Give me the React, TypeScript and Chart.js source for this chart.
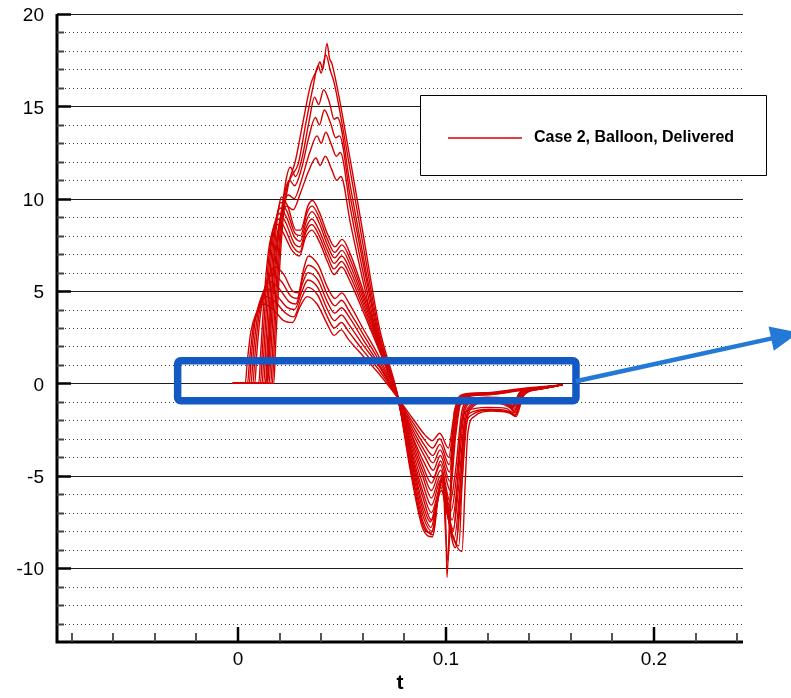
import React, { useEffect, useRef } from 'react';
import { Chart, registerables } from 'chart.js';

Chart.register(...registerables);

// ---------- axes / ticks ----------
const xRange = [-0.087, 0.2428];
const yRange = [-14, 20];
const xMajorTicks = [0, 0.1, 0.2];
const xMinorTicks = [-0.08, -0.06, -0.04, -0.02, 0.02, 0.04, 0.06, 0.08, 0.12, 0.14, 0.16, 0.18, 0.22, 0.24];
const yMajorTicks = [-10, -5, 0, 5, 10, 15, 20];
const yMinorTicks = [-13, -12, -11, -9, -8, -7, -6, -4, -3, -2, -1, 1, 2, 3, 4, 6, 7, 8, 9, 11, 12, 13, 14, 16, 17, 18, 19];
const axisTitle = 't';
const legendLabel = 'Case 2, Balloon, Delivered';

// highlight box and arrow (data coordinates)
const boxT = [-0.029, 0.1625];
const boxV = [-0.94, 1.23];
const arrowStart = [0.1625, 0.12];
const arrowTip = [0.2695, 2.75];

// ---------- series (t, value) ----------
const s01 = [[-0.0025,0],[0.0035,0],[0.0045,1.2],[0.0062,2.8],[0.0088,3.8],[0.0125,4.3],[0.017,4.0],[0.022,3.4],[0.0262,3.3],[0.03,4.2],[0.0333,4.7],[0.038,4.3],[0.043,3.2],[0.0462,2.6],[0.0496,2.9],[0.053,2.4],[0.06,1.5],[0.068,0.5],[0.0763,-0.7],[0.084,-1.9],[0.09,-2.8],[0.0935,-3.1],[0.097,-2.7],[0.1012,-3.5],[0.1035,-2.0],[0.1055,-0.9],[0.108,-0.6],[0.12,-0.5],[0.135,-0.3],[0.146,-0.18],[0.156,-0.08]];
const s02 = [[-0.0025,0],[0.0046,0],[0.0056,1.3],[0.0074,3.1],[0.01,4.1],[0.0136,4.7],[0.018,4.4],[0.023,3.8],[0.0268,3.6],[0.0305,4.6],[0.0336,5.2],[0.0382,4.8],[0.043,3.6],[0.0463,3.0],[0.0497,3.3],[0.0532,2.8],[0.06,1.8],[0.068,0.7],[0.0764,-0.7],[0.084,-2.1],[0.09,-3.1],[0.0936,-3.5],[0.097,-3.0],[0.1013,-4.0],[0.1037,-2.2],[0.1058,-0.95],[0.1085,-0.62],[0.12,-0.52],[0.135,-0.32],[0.146,-0.2],[0.156,-0.08]];
const s03 = [[-0.0025,0],[0.0054,0],[0.0064,1.4],[0.0083,3.4],[0.011,4.6],[0.0146,5.1],[0.019,4.7],[0.0238,4.1],[0.0272,4.0],[0.0308,5.0],[0.0336,5.6],[0.0383,5.2],[0.043,4.0],[0.0464,3.4],[0.0497,3.7],[0.0533,3.2],[0.06,2.1],[0.068,0.9],[0.0765,-0.72],[0.084,-2.3],[0.09,-3.4],[0.0937,-3.9],[0.0971,-3.3],[0.1015,-4.4],[0.1039,-2.4],[0.106,-1.0],[0.109,-0.65],[0.12,-0.55],[0.135,-0.34],[0.146,-0.2],[0.156,-0.08]];
const s04 = [[-0.0025,0],[0.0063,0],[0.0073,1.5],[0.0093,3.6],[0.012,4.9],[0.0156,5.5],[0.02,5.1],[0.0248,4.4],[0.0278,4.3],[0.031,5.4],[0.0337,6.0],[0.0384,5.6],[0.043,4.4],[0.0465,3.8],[0.0498,4.1],[0.0534,3.6],[0.06,2.4],[0.068,1.0],[0.0766,-0.73],[0.084,-2.5],[0.09,-3.7],[0.0938,-4.3],[0.0972,-3.6],[0.1017,-4.8],[0.1041,-2.6],[0.1063,-1.05],[0.1095,-0.68],[0.12,-0.58],[0.135,-0.36],[0.146,-0.21],[0.156,-0.08]];
const s05 = [[-0.0025,0],[0.0072,0],[0.0082,1.6],[0.0102,3.8],[0.013,5.2],[0.0166,5.9],[0.021,5.5],[0.0256,4.7],[0.0284,4.6],[0.0313,5.8],[0.0338,6.4],[0.0385,6.0],[0.043,4.8],[0.0466,4.2],[0.0498,4.5],[0.0535,3.9],[0.06,2.7],[0.068,1.2],[0.0766,-0.74],[0.084,-2.7],[0.09,-4.0],[0.0939,-4.7],[0.0973,-3.9],[0.1019,-5.3],[0.1043,-2.8],[0.1066,-1.1],[0.11,-0.7],[0.12,-0.6],[0.135,-0.38],[0.146,-0.22],[0.156,-0.08]];
const s06 = [[-0.0025,0],[0.0081,0],[0.0091,1.7],[0.0111,4.0],[0.014,5.5],[0.0176,6.3],[0.022,5.9],[0.0262,5.0],[0.029,4.9],[0.0316,6.2],[0.0339,6.9],[0.0386,6.4],[0.043,5.2],[0.0467,4.6],[0.0499,4.9],[0.0536,4.3],[0.06,3.0],[0.068,1.4],[0.0767,-0.75],[0.084,-2.9],[0.09,-4.4],[0.094,-5.1],[0.0974,-4.2],[0.1021,-5.8],[0.1045,-3.0],[0.1069,-1.15],[0.1105,-0.72],[0.12,-0.62],[0.135,-0.4],[0.146,-0.23],[0.156,-0.08]];
const s07 = [[-0.0025,0],[0.01,0],[0.011,1.8],[0.0125,4.5],[0.0145,7.0],[0.0165,8.2],[0.019,8.6],[0.022,8.1],[0.026,7.2],[0.0295,6.9],[0.0325,7.9],[0.0355,8.3],[0.039,7.7],[0.043,6.6],[0.0462,5.9],[0.0498,6.3],[0.054,5.5],[0.062,3.4],[0.07,1.2],[0.0765,-0.72],[0.083,-2.7],[0.089,-4.5],[0.093,-5.4],[0.0973,-4.4],[0.102,-6.4],[0.1045,-4.8],[0.1075,-1.6],[0.11,-1.0],[0.12,-0.75],[0.128,-0.8],[0.132,-1.1],[0.136,-0.45],[0.145,-0.25],[0.156,-0.08]];
const s08 = [[-0.0025,0],[0.0108,0],[0.0118,1.9],[0.0133,4.7],[0.0153,7.3],[0.0172,8.5],[0.0195,8.9],[0.0225,8.4],[0.0265,7.4],[0.0297,7.1],[0.0327,8.2],[0.0355,8.6],[0.039,8.0],[0.043,6.9],[0.0462,6.2],[0.0498,6.6],[0.054,5.8],[0.062,3.6],[0.07,1.3],[0.0767,-0.73],[0.083,-2.9],[0.089,-4.8],[0.093,-5.8],[0.0974,-4.7],[0.1025,-6.9],[0.105,-5.1],[0.108,-1.7],[0.1105,-1.05],[0.12,-0.8],[0.1285,-0.9],[0.1322,-1.2],[0.1362,-0.5],[0.145,-0.26],[0.156,-0.08]];
const s09 = [[-0.0025,0],[0.0116,0],[0.0126,2.0],[0.0141,4.9],[0.0161,7.6],[0.018,8.8],[0.02,9.2],[0.023,8.7],[0.027,7.6],[0.0298,7.4],[0.033,8.5],[0.0355,8.9],[0.039,8.3],[0.043,7.2],[0.0463,6.5],[0.0499,6.9],[0.054,6.1],[0.062,3.8],[0.07,1.4],[0.0768,-0.74],[0.083,-3.1],[0.089,-5.1],[0.093,-6.2],[0.0975,-5.0],[0.103,-7.4],[0.1055,-5.4],[0.1085,-1.8],[0.111,-1.1],[0.12,-0.85],[0.129,-1.0],[0.1325,-1.3],[0.1365,-0.5],[0.145,-0.27],[0.156,-0.08]];
const s10 = [[-0.0025,0],[0.0124,0],[0.0134,2.1],[0.0149,5.1],[0.0169,7.9],[0.0187,9.1],[0.0203,9.5],[0.0233,9.0],[0.0273,7.9],[0.0299,7.7],[0.0332,8.9],[0.0356,9.3],[0.039,8.7],[0.043,7.5],[0.0464,6.8],[0.05,7.2],[0.054,6.4],[0.062,4.0],[0.07,1.5],[0.0769,-0.75],[0.083,-3.3],[0.089,-5.5],[0.093,-6.6],[0.0976,-5.2],[0.1035,-7.9],[0.106,-5.7],[0.109,-1.9],[0.1115,-1.2],[0.12,-0.9],[0.1295,-1.1],[0.1328,-1.4],[0.1368,-0.55],[0.145,-0.28],[0.156,-0.08]];
const s11 = [[-0.0025,0],[0.0132,0],[0.0142,2.2],[0.0157,5.3],[0.0177,8.2],[0.0193,9.4],[0.0206,9.8],[0.0236,9.3],[0.0276,8.1],[0.03,8.0],[0.0334,9.3],[0.0357,9.6],[0.039,9.0],[0.043,7.8],[0.0465,7.1],[0.05,7.5],[0.054,6.7],[0.062,4.2],[0.07,1.6],[0.077,-0.76],[0.083,-3.5],[0.089,-5.9],[0.093,-7.0],[0.0977,-5.5],[0.104,-8.4],[0.1065,-6.0],[0.1095,-2.0],[0.112,-1.25],[0.12,-0.95],[0.13,-1.2],[0.1331,-1.5],[0.137,-0.55],[0.145,-0.29],[0.156,-0.08]];
const s12 = [[-0.0025,0],[0.014,0],[0.015,2.3],[0.0165,5.5],[0.0185,8.5],[0.0199,9.7],[0.0209,10.1],[0.0239,9.6],[0.0279,8.3],[0.0301,8.3],[0.0336,9.6],[0.0358,9.9],[0.039,9.3],[0.043,8.1],[0.0466,7.4],[0.0501,7.8],[0.054,7.0],[0.062,4.4],[0.07,1.7],[0.0771,-0.77],[0.083,-3.7],[0.089,-6.2],[0.093,-7.4],[0.0978,-5.8],[0.1045,-8.9],[0.107,-6.3],[0.11,-2.1],[0.1125,-1.3],[0.12,-1.0],[0.1305,-1.3],[0.1334,-1.6],[0.1372,-0.6],[0.145,-0.3],[0.156,-0.08]];
const s13 = [[-0.0025,0],[0.0135,0],[0.0145,1.8],[0.016,4.6],[0.018,7.3],[0.0205,9.0],[0.0235,9.6],[0.0265,9.4],[0.03,10.3],[0.034,11.5],[0.0375,12.2],[0.0395,11.8],[0.042,12.3],[0.045,11.6],[0.0475,11.0],[0.0495,11.2],[0.054,8.7],[0.06,5.6],[0.068,1.9],[0.0765,-0.72],[0.083,-3.8],[0.089,-6.6],[0.0925,-7.5],[0.095,-6.6],[0.0975,-5.6],[0.1,-6.8],[0.1035,-8.0],[0.1055,-5.5],[0.107,-2.6],[0.11,-1.5],[0.12,-1.3],[0.129,-1.35],[0.1325,-1.6],[0.1365,-0.6],[0.145,-0.3],[0.156,-0.08]];
const s14 = [[-0.0025,0],[0.0143,0],[0.0153,1.9],[0.0168,4.8],[0.0188,7.6],[0.0213,9.5],[0.0243,10.2],[0.027,10.0],[0.0305,11.0],[0.0345,12.5],[0.038,13.4],[0.04,13.0],[0.0422,13.6],[0.045,12.9],[0.0473,12.3],[0.0492,12.5],[0.054,9.5],[0.06,6.1],[0.068,2.1],[0.0766,-0.73],[0.083,-4.0],[0.089,-6.9],[0.0928,-7.8],[0.0955,-6.5],[0.098,-5.3],[0.1005,-7.0],[0.105,-8.6],[0.1068,-5.8],[0.1085,-2.6],[0.1115,-1.6],[0.121,-1.4],[0.13,-1.5],[0.1332,-1.75],[0.137,-0.6],[0.145,-0.3],[0.156,-0.08]];
const s15 = [[-0.0025,0],[0.015,0],[0.016,2.0],[0.0175,5.0],[0.0195,8.0],[0.0222,10.2],[0.0248,11.0],[0.0272,10.7],[0.0305,11.6],[0.034,13.3],[0.0372,14.4],[0.0392,14.0],[0.0415,14.8],[0.0445,14.1],[0.047,13.3],[0.0488,13.4],[0.054,10.1],[0.06,6.6],[0.068,2.3],[0.0767,-0.74],[0.083,-4.2],[0.089,-7.2],[0.0933,-8.0],[0.096,-6.4],[0.0985,-5.1],[0.101,-7.2],[0.1077,-9.1],[0.1092,-5.5],[0.1105,-2.7],[0.1135,-1.8],[0.122,-1.5],[0.1305,-1.6],[0.1336,-1.8],[0.1374,-0.65],[0.145,-0.32],[0.156,-0.08]];
const s16 = [[-0.0025,0],[0.0158,0],[0.0168,2.1],[0.0183,5.2],[0.0203,8.3],[0.0228,10.8],[0.0252,11.7],[0.0277,11.2],[0.0308,12.2],[0.0342,14.2],[0.0368,15.5],[0.0388,15.1],[0.0412,15.9],[0.044,15.2],[0.0462,14.3],[0.0478,14.4],[0.054,10.7],[0.06,7.0],[0.068,2.5],[0.0768,-0.75],[0.083,-4.4],[0.089,-7.5],[0.0938,-8.2],[0.0962,-6.2],[0.0985,-4.9],[0.1008,-7.0],[0.1062,-8.8],[0.1078,-5.2],[0.1095,-2.4],[0.1125,-1.7],[0.1215,-1.45],[0.1302,-1.55],[0.1334,-1.7],[0.1372,-0.6],[0.145,-0.31],[0.156,-0.08]];
const s17 = [[-0.0025,0],[0.0165,0],[0.0175,2.2],[0.019,5.4],[0.021,8.6],[0.0235,10.6],[0.0262,11.3],[0.029,11.9],[0.0325,14.0],[0.036,16.0],[0.0385,17.2],[0.04,16.8],[0.0422,17.8],[0.0445,16.9],[0.0462,16.3],[0.054,11.5],[0.06,7.6],[0.068,2.7],[0.0769,-0.76],[0.083,-4.6],[0.089,-7.7],[0.093,-8.1],[0.096,-6.3],[0.0983,-5.0],[0.1,-8.5],[0.101,-9.6],[0.1028,-5.0],[0.1045,-1.8],[0.108,-1.1],[0.12,-0.9],[0.128,-1.0],[0.132,-1.3],[0.136,-0.5],[0.145,-0.28],[0.156,-0.08]];
const s18 = [[-0.0025,0],[0.0172,0],[0.0182,2.3],[0.0197,5.6],[0.0217,8.9],[0.0245,10.9],[0.0275,12.0],[0.031,14.0],[0.035,16.2],[0.038,17.0],[0.0394,17.4],[0.0408,17.0],[0.0428,18.4],[0.044,17.6],[0.0452,17.3],[0.054,12.1],[0.06,8.2],[0.068,3.0],[0.077,-0.77],[0.083,-4.8],[0.089,-7.9],[0.0935,-8.3],[0.0962,-6.0],[0.0987,-4.8],[0.1,-8.0],[0.1005,-10.5],[0.1022,-5.5],[0.104,-1.5],[0.1075,-0.95],[0.12,-0.85],[0.1275,-0.95],[0.1318,-1.25],[0.1358,-0.45],[0.145,-0.26],[0.156,-0.08]];

const allSeries = [s01, s02, s03, s04, s05, s06, s07, s08, s09, s10, s11, s12, s13, s14, s15, s16, s17, s18];

const RED = '#d40000';
const FONT = "'Liberation Sans', Arial, Helvetica, sans-serif";

const framePlugin = {
  id: 'frame',
  beforeDatasetsDraw(chart: any) {
    const { ctx, chartArea: a, scales } = chart;
    const ys = scales.y;
    ctx.save();
    ctx.lineWidth = 1;
    ctx.strokeStyle = '#3c3c3c';
    ctx.setLineDash([1, 3]);
    ctx.beginPath();
    for (const v of yMinorTicks) {
      const py = Math.round(ys.getPixelForValue(v)) + 0.5;
      ctx.moveTo(a.left, py);
      ctx.lineTo(a.right, py);
    }
    ctx.stroke();
    ctx.setLineDash([]);
    ctx.strokeStyle = '#1e1e1e';
    ctx.beginPath();
    for (const v of yMajorTicks) {
      const py = Math.round(ys.getPixelForValue(v)) + 0.5;
      ctx.moveTo(a.left, py);
      ctx.lineTo(a.right, py);
    }
    ctx.stroke();
    ctx.restore();
  },
  afterDatasetsDraw(chart: any) {
    const { ctx, chartArea: a, scales } = chart;
    const xs = scales.x;
    const ys = scales.y;
    ctx.save();
    // axes
    ctx.strokeStyle = '#000';
    ctx.lineWidth = 3;
    ctx.beginPath();
    ctx.moveTo(a.left, a.top);
    ctx.lineTo(a.left, a.bottom + 1.5);
    ctx.moveTo(a.left - 1.5, a.bottom);
    ctx.lineTo(a.right, a.bottom);
    ctx.stroke();
    // y ticks
    ctx.lineWidth = 2.5;
    ctx.strokeStyle = '#000';
    ctx.beginPath();
    for (const v of yMajorTicks) {
      const py = Math.round(ys.getPixelForValue(v)) + 0.5;
      ctx.moveTo(a.left, py);
      ctx.lineTo(a.left + 14, py);
    }
    ctx.stroke();
    ctx.lineWidth = 2;
    ctx.strokeStyle = '#444';
    ctx.beginPath();
    for (const v of yMinorTicks) {
      const py = Math.round(ys.getPixelForValue(v)) + 0.5;
      ctx.moveTo(a.left, py);
      ctx.lineTo(a.left + 7, py);
    }
    ctx.stroke();
    // x ticks
    ctx.lineWidth = 2.5;
    ctx.strokeStyle = '#000';
    ctx.beginPath();
    for (const v of xMajorTicks) {
      const px = Math.round(xs.getPixelForValue(v));
      ctx.moveTo(px, a.bottom);
      ctx.lineTo(px, a.bottom - 15);
    }
    ctx.stroke();
    ctx.lineWidth = 1.8;
    ctx.strokeStyle = '#444';
    ctx.beginPath();
    for (const v of xMinorTicks) {
      const px = Math.round(xs.getPixelForValue(v));
      ctx.moveTo(px, a.bottom);
      ctx.lineTo(px, a.bottom - 9);
    }
    ctx.stroke();

    // highlight box
    const bx0 = xs.getPixelForValue(boxT[0]);
    const bx1 = xs.getPixelForValue(boxT[1]);
    const by0 = ys.getPixelForValue(boxV[1]);
    const by1 = ys.getPixelForValue(boxV[0]);
    ctx.strokeStyle = '#1259c3';
    ctx.lineWidth = 7.5;
    ctx.lineJoin = 'round';
    ctx.beginPath();
    if ((ctx as any).roundRect) (ctx as any).roundRect(bx0, by0, bx1 - bx0, by1 - by0, 3);
    else ctx.rect(bx0, by0, bx1 - bx0, by1 - by0);
    ctx.stroke();

    // arrow
    const ax0 = xs.getPixelForValue(arrowStart[0]);
    const ay0 = ys.getPixelForValue(arrowStart[1]);
    const ax1 = xs.getPixelForValue(arrowTip[0]);
    const ay1 = ys.getPixelForValue(arrowTip[1]);
    const dx = ax1 - ax0, dy = ay1 - ay0;
    const len = Math.hypot(dx, dy);
    const ux = dx / len, uy = dy / len;
    const nx = -uy, ny = ux;
    const headL = 28, headW = 12.5;
    const bxc = ax1 - ux * headL, byc = ay1 - uy * headL;
    ctx.strokeStyle = '#2478d6';
    ctx.fillStyle = '#2478d6';
    ctx.lineWidth = 4.5;
    ctx.lineCap = 'butt';
    ctx.beginPath();
    ctx.moveTo(ax0, ay0);
    ctx.lineTo(bxc + ux * 2, byc + uy * 2);
    ctx.stroke();
    ctx.beginPath();
    ctx.moveTo(ax1, ay1);
    ctx.lineTo(bxc + nx * headW, byc + ny * headW);
    ctx.lineTo(bxc - nx * headW, byc - ny * headW);
    ctx.closePath();
    ctx.fill();

    // legend
    ctx.fillStyle = '#fff';
    ctx.fillRect(420, 95, 346, 80);
    ctx.strokeStyle = '#000';
    ctx.lineWidth = 1;
    ctx.strokeRect(420.5, 95.5, 346, 80);
    ctx.strokeStyle = RED;
    ctx.lineWidth = 1.3;
    ctx.beginPath();
    ctx.moveTo(448, 138);
    ctx.lineTo(522, 138);
    ctx.stroke();
    ctx.fillStyle = '#000';
    ctx.font = `bold 16px ${FONT}`;
    ctx.textBaseline = 'middle';
    ctx.textAlign = 'left';
    ctx.fillText(legendLabel, 534, 138);
    ctx.restore();
  },
};

export default function App() {
  const ref = useRef<HTMLCanvasElement>(null);
  useEffect(() => {
    Chart.defaults.font.family = FONT;
    const datasets = allSeries.map((s, i) => ({
      label: i === 0 ? legendLabel : `${legendLabel} ${i + 1}`,
      data: s.map(([x, y]) => ({ x, y })),
      borderColor: RED,
      borderWidth: 1.4,
      pointRadius: 0,
      fill: false,
      cubicInterpolationMode: 'monotone' as const,
    }));
    const chart = new Chart(ref.current as HTMLCanvasElement, {
      type: 'line',
      data: { datasets },
      options: {
        responsive: false,
        devicePixelRatio: 1,
        animation: false,
        parsing: false as any,
        layout: { padding: { left: 0, right: 48, top: 14, bottom: 0 } },
        plugins: { legend: { display: false }, tooltip: { enabled: false } },
        scales: {
          x: {
            type: 'linear',
            min: xRange[0],
            max: xRange[1],
            grid: { display: false, drawTicks: false },
            border: { display: false },
            afterBuildTicks: (s: any) => { s.ticks = xMajorTicks.map((v) => ({ value: v })); },
            afterFit: (s: any) => { s.height = 56; s.paddingLeft = 0; s.paddingRight = 0; s.paddingTop = 0; s.paddingBottom = 0; },
            ticks: { color: '#000', font: { size: 19 }, padding: 6, maxRotation: 0, autoSkip: false, callback: (v: any) => String(v) },
            title: { display: true, text: axisTitle, color: '#000', font: { size: 21, weight: 'bold' }, padding: { top: 0, bottom: 2 } },
          },
          y: {
            type: 'linear',
            min: yRange[0],
            max: yRange[1],
            grid: { display: false, drawTicks: false },
            border: { display: false },
            afterBuildTicks: (s: any) => { s.ticks = yMajorTicks.map((v) => ({ value: v })); },
            afterFit: (s: any) => { s.width = 57; s.paddingTop = 0; s.paddingBottom = 0; s.paddingLeft = 0; s.paddingRight = 0; },
            ticks: { color: '#000', font: { size: 19 }, padding: 13, labelOffset: 2, autoSkip: false, callback: (v: any) => String(v) },
          },
        },
      },
      plugins: [framePlugin],
    } as any);
    return () => chart.destroy();
  }, []);
  return (
    <div style={{ position: 'absolute', left: 0, top: 0, width: 791, height: 698, background: '#fff' }}>
      <canvas ref={ref} width={791} height={698} style={{ display: 'block', width: 791, height: 698 }} />
    </div>
  );
}
